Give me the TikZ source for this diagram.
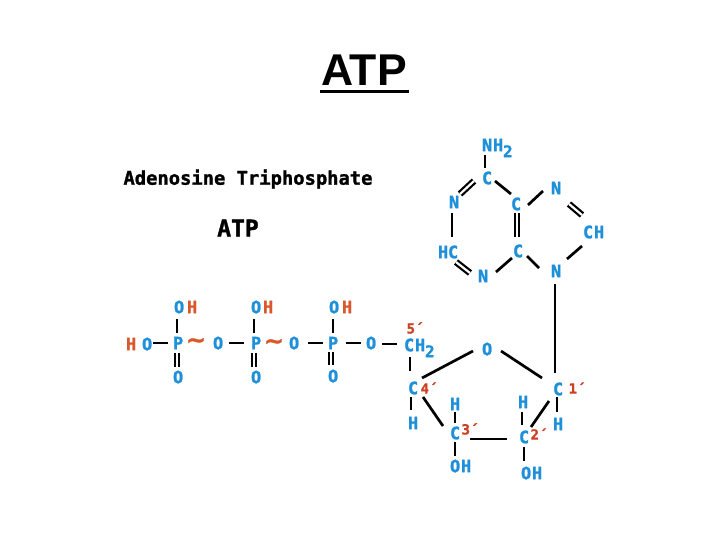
\documentclass[tikz,border=0pt]{standalone}
\usepackage{fontspec}
\setmainfont{Liberation Sans}
\newfontfamily\pixfont{DejaVu Sans Mono}[BoldFont={DejaVu Sans Mono Bold},BoldFeatures={FakeBold=1.4}]
\newfontfamily\tildefont{DejaVu Sans}[BoldFont={DejaVu Sans Bold},BoldFeatures={FakeBold=1}]
\definecolor{atomblue}{HTML}{1E8FD9}
\definecolor{atomred}{HTML}{D9572B}
\definecolor{primered}{HTML}{CC4122}
\tikzset{
  atom/.style={inner sep=0pt,outer sep=0pt,text=atomblue,text height=12.4pt,text depth=0pt,text width=8pt,align=center,
    font=\pixfont\bfseries\fontsize{17}{17}\selectfont},
  atomh/.style={atom,text=atomred},
  sub2/.style={atom,font=\pixfont\bfseries\fontsize{16}{16}\selectfont},
  primelabel/.style={inner sep=0pt,text=primered,font=\pixfont\bfseries\fontsize{14}{14}\selectfont},
  wave/.style={inner sep=0pt,text=atomred,font=\tildefont\bfseries\fontsize{24}{24}\selectfont},
  bond/.style={draw=black,line width=2.7pt},
  dbond/.style={draw=black,line width=2.2pt,double=white,double distance=2.2pt},
  headline/.style={inner sep=0pt,text=black}
}
\begin{document}
\begin{tikzpicture}[x=1pt,y=-1pt]
\useasboundingbox (0,0) rectangle (728,546);
\fill[white] (0,0) rectangle (728,546);
% headings
\node[inner sep=0pt,anchor=base,font=\bfseries\fontsize{44.5}{44.5}\selectfont] (title) at (364,85) {ATP};
\fill[black] (320,89.5) rectangle (409,93);
\node[headline,font=\pixfont\bfseries\fontsize{18.8}{19}\selectfont] (full) at (248,179) {Adenosine Triphosphate};
\node[headline,font=\pixfont\bfseries\fontsize{23}{23}\selectfont] (abbr) at (238,228) {ATP};
% adenine
\node[atom] (n6) at (486,145) {N};
\node[atom] (n6h) at (497,145) {H};
\node[sub2] (n62) at (507,151) {2};
\node[atom] (c6) at (486,178) {C};
\node[atom] (n1) at (453,202) {N};
\node[atom] (c5) at (515,204) {C};
\node[atom] (n7) at (555,188) {N};
\node[atom] (c8) at (587,232) {C};
\node[atom] (c8h) at (598,232) {H};
\node[atom] (c4) at (517,251) {C};
\node[atom] (n9) at (555,271) {N};
\node[atom] (n3) at (482,276) {N};
\node[atom] (c2h) at (442,252) {H};
\node[atom] (c2) at (452,252) {C};
% sugar
\node[primelabel] (p5) at (415,328) {5´};
\node[atom] (c5p) at (408,345) {C};
\node[atom] (c5ph) at (419,345) {H};
\node[sub2] (c5p2) at (429,351) {2};
\node[atom] (o4) at (486,349) {O};
\node[atom] (c4p) at (412,388) {C};
\node[primelabel] (p4) at (429,388) {4´};
\node[atom] (h4) at (412,423) {H};
\node[atom] (h3) at (454,404) {H};
\node[atom] (c3p) at (454,433) {C};
\node[primelabel] (p3) at (470,429) {3´};
\node[atom] (o3) at (454,466) {O};
\node[atom] (h3o) at (465,466) {H};
\node[atom] (h2) at (522,402) {H};
\node[atom] (c2p) at (523,437) {C};
\node[primelabel] (p2) at (539,434) {2´};
\node[atom] (o2) at (525,473) {O};
\node[atom] (h2o) at (536,473) {H};
\node[atom] (c1p) at (557,389) {C};
\node[primelabel] (p1) at (577,388) {1´};
\node[atom] (h1) at (557,424) {H};
% phosphates
\node[atomh] (hl) at (130,344) {H};
\node[atom] (ol) at (146,344) {O};
\node[atom] (pa) at (177,343) {P};
\node[wave] (wa) at (196,343) {\char"007E};
\node[atom] (oab) at (217,343) {O};
\node[atom] (pb) at (255,343) {P};
\node[wave] (wb) at (274,344) {\char"007E};
\node[atom] (obc) at (293,343) {O};
\node[atom] (pc) at (332,343) {P};
\node[atom] (oc) at (370,343) {O};
\node[atom] (oa1) at (178,307) {O};
\node[atomh] (ha1) at (191,307) {H};
\node[atom] (ob1) at (255,307) {O};
\node[atomh] (hb1) at (267,307) {H};
\node[atom] (oc1) at (333,307) {O};
\node[atomh] (hc1) at (346,307) {H};
\node[atom] (oa2) at (177,377) {O};
\node[atom] (ob2) at (255,377) {O};
\node[atom] (oc2) at (332,376) {O};
% adenine bonds
\draw[bond] ([shift={(-1,10)}]n6.center) -- ([shift={(-1,-10)}]c6.center);
\draw[dbond] ([shift={(-12,3)}]c6.center) -- ([shift={(7,-8)}]n1.center);
\draw[bond] ([shift={(9,3)}]c6.center) -- ([shift={(-4,-10)}]c5.center);
\draw[bond] ([shift={(13,1)}]c5.center) -- ([shift={(-12,3)}]n7.center);
\draw[dbond] ([shift={(14,16)}]n7.center) -- ([shift={(-5,-17)}]c8.center);
\draw[bond] ([shift={(-5,14)}]c8.center) -- ([shift={(12,-12)}]n9.center);
\draw[dbond] ([shift={(2,9)}]c5.center) -- ([shift={(0,-14)}]c4.center);
\draw[bond] ([shift={(10,5)}]c4.center) -- ([shift={(-16,-3)}]n9.center);
\draw[bond] ([shift={(-5,7)}]c4.center) -- ([shift={(14,-4)}]n3.center);
\draw[dbond] ([shift={(4,10)}]c2.center) -- ([shift={(-12,-3)}]n3.center);
\draw[bond] ([shift={(-1,11)}]n1.center) -- ([shift={(0,-15)}]c2.center);
\draw[bond] ([shift={(0,13)}]n9.center) -- ([shift={(-2,-16)}]c1p.center);
% sugar bonds
\draw[bond] ([shift={(2,12)}]c5p.center) -- ([shift={(-2,-17)}]c4p.center);
\draw[bond] ([shift={(10,-10)}]c4p.center) -- ([shift={(-13,2)}]o4.center);
\draw[bond] ([shift={(15,2)}]o4.center) -- ([shift={(-15,-11)}]c1p.center);
\draw[bond] ([shift={(-8,12)}]c1p.center) -- ([shift={(8,-10)}]c2p.center);
\draw[bond] ([shift={(0,8)}]c1p.center) -- ([shift={(0,-12)}]h1.center);
\draw[bond] ([shift={(0,10)}]h2.center) -- ([shift={(-1,-12)}]c2p.center);
\draw[bond] ([shift={(1,10)}]c2p.center) -- ([shift={(-1,-12)}]o2.center);
\draw[bond] ([shift={(16,6)}]c3p.center) -- ([shift={(-16,2)}]c2p.center);
\draw[bond] ([shift={(1,-10)}]c3p.center) -- ([shift={(1,8)}]h3.center);
\draw[bond] ([shift={(1,9)}]c3p.center) -- ([shift={(1,-10)}]o3.center);
\draw[bond] ([shift={(-1,9)}]c4p.center) -- ([shift={(-1,-13)}]h4.center);
\draw[bond] ([shift={(11,9)}]c4p.center) -- ([shift={(-11,-7)}]c3p.center);
% phosphate bonds
\draw[bond] ([shift={(7,-1)}]ol.center) -- ([shift={(-9,0)}]pa.center);
\draw[bond] ([shift={(12,0)}]oab.center) -- ([shift={(-11,0)}]pb.center);
\draw[bond] ([shift={(15,0)}]obc.center) -- ([shift={(-9,0)}]pc.center);
\draw[bond] ([shift={(14,0)}]pc.center) -- ([shift={(-9,0)}]oc.center);
\draw[bond] ([shift={(12,1)}]oc.center) -- ([shift={(-11,-1)}]c5p.center);
\draw[bond] ([shift={(-1,12)}]oa1.center) -- ([shift={(0,-10)}]pa.center);
\draw[bond] ([shift={(-1,12)}]ob1.center) -- ([shift={(-1,-10)}]pb.center);
\draw[bond] ([shift={(0,12)}]oc1.center) -- ([shift={(1,-10)}]pc.center);
\draw[dbond] ([shift={(0,10)}]pa.center) -- ([shift={(0,-10)}]oa2.center);
\draw[dbond] ([shift={(-1,10)}]pb.center) -- ([shift={(-1,-10)}]ob2.center);
\draw[dbond] ([shift={(-1,9)}]pc.center) -- ([shift={(-1,-11)}]oc2.center);
\end{tikzpicture}
\end{document}
